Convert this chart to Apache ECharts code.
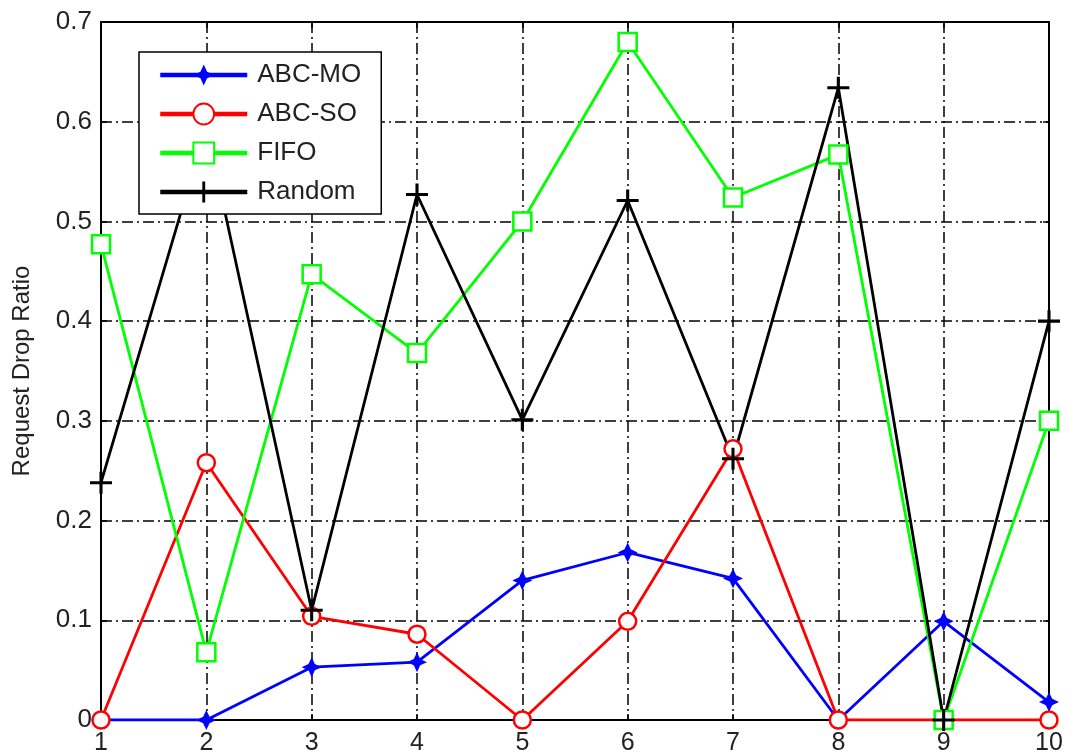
<!DOCTYPE html>
<html>
<head>
<meta charset="utf-8">
<script src="https://cdn.jsdelivr.net/npm/echarts@6/dist/echarts.min.js"></script>
<style>
  html, body { margin: 0; padding: 0; background: #fff; }
  #main { width: 1068px; height: 756px; }
</style>
</head>
<body>
<div id="main"></div>
<script>
var xValues = [1, 2, 3, 4, 5, 6, 7, 8, 9, 10];
var abcMO = [0, 0, 0.053, 0.058, 0.14, 0.168, 0.142, 0, 0.099, 0.018];
var abcSO = [0, 0.258, 0.104, 0.086, 0, 0.099, 0.272, 0, 0, 0];
var fifo = [0.477, 0.068, 0.447, 0.368, 0.5, 0.68, 0.524, 0.567, 0, 0.3];
var random = [0.238, 0.595, 0.11, 0.527, 0.301, 0.521, 0.262, 0.634, 0, 0.4];

var starPath = 'path://M0,-10 L3.2,-3.2 L10,0 L3.2,3.2 L0,10 L-3.2,3.2 L-10,0 L-3.2,-3.2 Z';
var plusPath = 'path://M-1.4,-10 H1.4 V-1.4 H10 V1.4 H1.4 V10 H-1.4 V1.4 H-10 V-1.4 H-1.4 Z';

function pairs(ys) {
	return xValues.map(function (x, i) { return [x, ys[i]]; });
}

var font = 'Liberation Sans, Arial, sans-serif';
var gridDash = [11, 4, 2, 4];

var myChart = echarts.init(document.getElementById('main'));

function lineSeries(name, ys, color, symbol, size, filled) {
	return {
		name: name,
		type: 'line',
		data: pairs(ys),
		symbol: symbol,
		symbolSize: size,
		showAllSymbol: true,
		lineStyle: { color: color, width: 2.8 },
		itemStyle: filled
			? { color: color, borderColor: color, borderWidth: 0 }
			: { color: '#fff', borderColor: color, borderWidth: 2.5, opacity: 1 },
		emphasis: { disabled: true },
		animation: false
	};
}

var option = {
	backgroundColor: '#fff',
	animation: false,
	grid: { left: 101, right: 19, top: 22, bottom: 34 },
	legend: {
		orient: 'vertical',
		left: 139,
		top: 52,
		padding: [10, 20, 9, 19],
		itemGap: 13,
		itemWidth: 87,
		itemHeight: 26,
		backgroundColor: '#fff',
		borderColor: '#000',
		borderWidth: 1.5,
		borderRadius: 0,
		lineStyle: { width: 4.5 },
		textStyle: { fontFamily: font, fontSize: 26, color: '#222', padding: [0, 0, 0, 5] },
		data: ['ABC-MO', 'ABC-SO', 'FIFO', 'Random']
	},
	xAxis: [
		{
			type: 'value',
			min: 1,
			max: 10,
			interval: 1,
			position: 'bottom',
			axisLine: { onZero: false, lineStyle: { color: '#000', width: 2 } },
			axisTick: { inside: true, length: 6, lineStyle: { color: '#000', width: 1.5 } },
			axisLabel: { fontFamily: font, fontSize: 25, color: '#222', margin: 11 },
			splitLine: { show: true, lineStyle: { color: '#000', width: 1.5, type: gridDash } }
		},
		{
			type: 'value',
			min: 1,
			max: 10,
			interval: 1,
			position: 'top',
			axisLine: { onZero: false, lineStyle: { color: '#000', width: 2 } },
			axisTick: { inside: true, length: 6, lineStyle: { color: '#000', width: 1.5 } },
			axisLabel: { show: false },
			splitLine: { show: false }
		}
	],
	yAxis: [
		{
			type: 'value',
			min: 0,
			max: 0.7,
			interval: 0.1,
			position: 'left',
			name: 'Request Drop Ratio',
			nameLocation: 'middle',
			nameGap: 67,
			nameTextStyle: { fontFamily: font, fontSize: 24, color: '#222' },
			axisLine: { show: true, onZero: false, lineStyle: { color: '#000', width: 2 } },
			axisTick: { show: true, inside: true, length: 6, lineStyle: { color: '#000', width: 1.5 } },
			axisLabel: {
				fontFamily: font, fontSize: 26, color: '#222', margin: 9,
				formatter: function (v) { return v === 0 ? '0' : v.toFixed(1); }
			},
			splitLine: { show: true, lineStyle: { color: '#000', width: 1.5, type: gridDash } }
		},
		{
			type: 'value',
			min: 0,
			max: 0.7,
			interval: 0.1,
			position: 'right',
			axisLine: { show: true, onZero: false, lineStyle: { color: '#000', width: 2 } },
			axisTick: { show: true, inside: true, length: 6, lineStyle: { color: '#000', width: 1.5 } },
			axisLabel: { show: false },
			splitLine: { show: false }
		}
	],
	series: [
		lineSeries('ABC-MO', abcMO, '#0000ff', starPath, 20, true),
		lineSeries('ABC-SO', abcSO, '#ff0000', 'circle', 17, false),
		lineSeries('FIFO', fifo, '#00ff00', 'rect', 18, false),
		lineSeries('Random', random, '#000000', plusPath, 22, true)
	]
};

myChart.setOption(option);
</script>
</body>
</html>
